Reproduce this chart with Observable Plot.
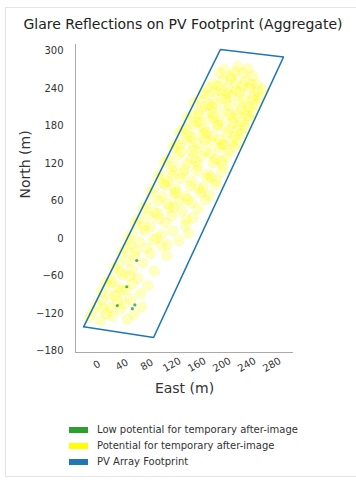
<!DOCTYPE html>
<html>
<head>
<meta charset="utf-8">
<script src="https://cdn.jsdelivr.net/npm/d3@7"></script>
<script src="https://cdn.jsdelivr.net/npm/@observablehq/plot@0.6"></script>
<style>
  body { margin: 0; background: #fff; font-family: "DejaVu Sans", sans-serif; }
  #wrap { position: relative; width: 356px; height: 480px; overflow: hidden; }
  #border { position: absolute; left: 5px; top: 7px; width: 360px; height: 470px; border: 1px solid #e4e4e4; box-sizing: border-box; }
  #title { position: absolute; left: 0; width: 366px; top: 16px; text-align: center; font-size: 14px; color: #222; }
  #chart { position: absolute; left: 0; top: 0; }
  .leg { position: absolute; left: 69px; font-size: 10px; color: #333; }
  .leg span.sw { display: inline-block; width: 19px; height: 6px; margin-right: 9px; vertical-align: middle; }
</style>
</head>
<body>
<div id="wrap">
  <div id="border"></div>
  <div id="chart"></div>
  <div id="title">Glare Reflections on PV Footprint (Aggregate)</div>
  <div id="legend"></div>
</div>
<script>
// PV array footprint polygon (East, North in m)
const footprintEast  = [-24, 88, 296, 195];
const footprintNorth = [-141, -158, 290, 302];

// Yellow: potential for temporary after-image [East, North]
const glareSpots = [
  [-15,-126],[3,-131],[22,-124],[46,-129],
  [-9,-116],[13,-120],[34,-113],[57,-121],
  [-3,-105],[19,-110],[41,-104],[69,-109],
  [6,-98],[27,-92],[51,-97],
  [4,-84],[17,-89],[44,-82],[67,-88],
  [12,-71],[31,-77],[54,-72],[79,-75],
  [19,-64],[39,-58],[63,-63],
  [25,-47],[35,-53],[53,-49],[89,-52],
  [31,-40],[47,-35],[71,-39],
  [37,-23],[57,-28],[83,-24],[109,-27],
  [43,-16],[51,-10],[77,-15],[101,-12],
  [47,0],[65,-5],[93,1],[129,-3],
  [53,8],[73,13],[101,7],[119,12],[144,9],
  [59,24],[83,19],[107,25],[139,21],
  [63,31],[79,37],[97,32],[117,36],[151,33],
  [71,48],[89,43],[113,49],[133,44],[159,47],
  [77,55],[95,61],[111,56],[129,60],[149,57],[171,62],
  [83,73],[101,67],[121,72],[139,68],[163,73],[177,69],
  [87,80],[107,85],[123,79],[147,84],[167,81],[187,86],
  [95,97],[111,91],[131,96],[149,92],[173,97],[189,93],
  [99,103],[117,109],[135,104],[157,108],[175,103],[197,107],
  [105,121],[121,115],[141,120],[159,116],[183,121],[199,117],
  [111,127],[127,133],[149,128],[165,132],[187,127],[205,131],
  [119,145],[133,139],[153,144],[171,140],[193,145],[209,141],[217,146],
  [123,151],[141,157],[159,152],[179,156],[197,151],[213,157],[223,153],
  [129,169],[145,163],[167,168],[183,164],[205,169],[219,163],[229,167],
  [135,175],[153,181],[169,176],[191,180],[209,175],[225,181],[235,177],
  [141,193],[157,187],[177,192],[195,188],[215,193],[231,187],[241,191],
  [149,199],[163,205],[183,200],[201,204],[221,199],[237,205],[247,201],
  [153,217],[171,211],[187,216],[209,212],[225,217],[241,211],[251,215],
  [161,223],[177,229],[197,224],[213,228],[233,223],[249,229],[257,225],
  [173,241],[187,235],[207,240],[221,236],[241,241],[255,235],[263,239],
  [183,247],[199,253],[219,248],[235,252],[253,247],
  [193,265],[211,259],[231,264],[247,260],
  [201,270],[223,275],[239,271],
  [130,150],[150,162],[172,170],[194,158],[214,185],[160,198],[182,210],[204,222],
  [226,234],[244,246],[168,232],[190,244],[212,256],[230,244],[246,222],[236,196],
  [222,172],[200,150],[180,136],[156,124],[138,110],[118,100],[104,88],[124,74],
  [142,62],[160,80],[180,98],[196,124],[210,198],[190,182],[170,158],[150,140],
  [140,176],[162,186],[184,194],[206,232],[228,206],[218,266],[196,236],[176,214],
  [8,-112],[30,-100],[20,-70],[50,-60],[36,-84],[60,-20],[88,-2],[72,20],
  [95,40],[120,50],[140,30],[110,-10]
];

// Green: low potential for temporary after-image
const lowEast  = [61, 45, 30, 54, 58];
const lowNorth = [-35, -77, -107, -112, -106];

const xTicks = [0, 40, 80, 120, 160, 200, 240, 280];
const yTicks = [-180, -120, -60, 0, 60, 120, 180, 240, 300];

const legendLabels = ["Low potential for temporary after-image", "Potential for temporary after-image", "PV Array Footprint"];
const legendColors = ["#2ca02c", "#ffff00", "#1f77b4"];

const footprint = footprintEast.map((e, i) => ({east: e, north: footprintNorth[i]}));
footprint.push(footprint[0]);
const glare = glareSpots.map(([e, n]) => ({east: e, north: n}));
const low = lowEast.map((e, i) => ({east: e, north: lowNorth[i]}));

const xDomain = [-37, 312];
const yDomain = [-182, 310];

const chart = Plot.plot({
  width: 356,
  height: 410,
  marginTop: 44,
  marginBottom: 58,
  marginLeft: 75,
  marginRight: 63,
  style: {fontFamily: "DejaVu Sans, sans-serif", fontSize: "10px", color: "#333", background: "transparent"},
  x: {domain: xDomain},
  y: {domain: yDomain},
  marks: [
    Plot.dot(glare, {x: "east", y: "north", r: 5.3, fill: "#ffff00", fillOpacity: 0.24, stroke: "#f2ee00", strokeOpacity: 0.1, strokeWidth: 1}),
    Plot.dot(low, {x: "east", y: "north", r: 1.6, fill: "#2ca02c", fillOpacity: 0.8}),
    Plot.line(footprint, {x: "east", y: "north", stroke: "#1f77b4", strokeWidth: 1.6}),
    Plot.ruleX([xDomain[0]], {stroke: "#aaa", strokeWidth: 1}),
    Plot.ruleY([yDomain[0]], {stroke: "#aaa", strokeWidth: 1}),
    Plot.axisY({ticks: yTicks, tickSize: 0, tickPadding: 12, label: null, fontSize: 10}),
    Plot.axisX({ticks: [], label: null, tickSize: 0}),
    Plot.text(xTicks, {x: d => d, frameAnchor: "bottom", dy: 15, rotate: -30, textAnchor: "middle", text: d => String(d), fontSize: 10, fill: "#333"}),
    Plot.text(["East (m)"], {frameAnchor: "bottom", dy: 40, fontSize: 14, fill: "#333"}),
    Plot.text(["North (m)"], {frameAnchor: "left", dx: -50, rotate: -90, fontSize: 14, fill: "#333"})
  ]
});
document.getElementById("chart").appendChild(chart);

const legend = document.getElementById("legend");
legendLabels.forEach((lab, i) => {
  const d = document.createElement("div");
  d.className = "leg";
  d.style.top = (424 + i * 16) + "px";
  d.innerHTML = `<span class="sw" style="background:${legendColors[i]}"></span>${lab}`;
  legend.appendChild(d);
});
</script>
</body>
</html>
